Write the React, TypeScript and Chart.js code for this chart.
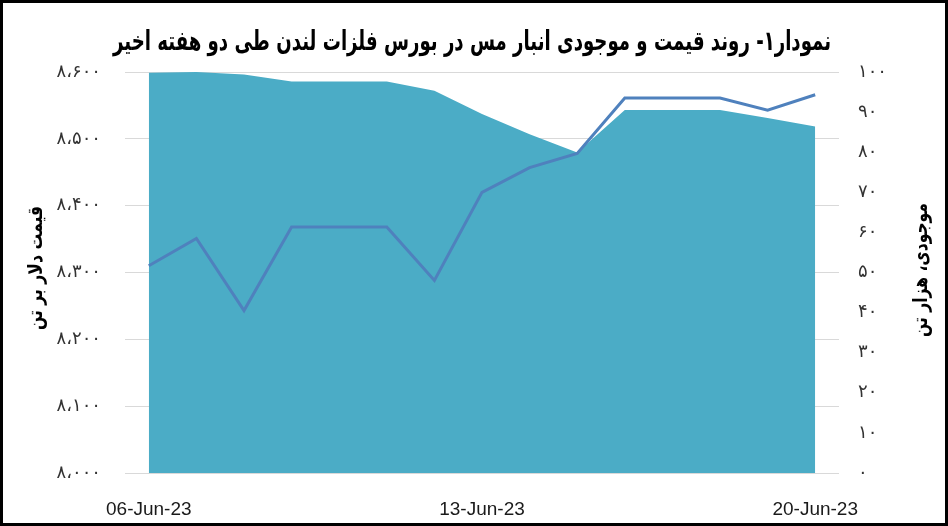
import { useEffect, useRef } from 'react';
import Chart from 'chart.js/auto';

const dates = [
  '06-Jun-23', '07-Jun-23', '08-Jun-23', '09-Jun-23', '10-Jun-23',
  '11-Jun-23', '12-Jun-23', '13-Jun-23', '14-Jun-23', '15-Jun-23',
  '16-Jun-23', '17-Jun-23', '18-Jun-23', '19-Jun-23', '20-Jun-23',
];
// copper price, $/t (left axis)
const priceValues = [8310, 8351, 8243, 8368, 8368, 8368, 8288, 8420, 8457, 8478, 8561, 8561, 8561, 8543, 8566];
// LME copper stock, thousand tonnes (right axis)
const stockValues = [99.8, 100, 99.4, 97.6, 97.6, 97.6, 95.3, 89.5, 84.5, 79.9, 90.5, 90.5, 90.5, 88.5, 86.4];

const priceTickLabels = ['۸،۰۰۰', '۸،۱۰۰', '۸،۲۰۰', '۸،۳۰۰', '۸،۴۰۰', '۸،۵۰۰', '۸،۶۰۰'];
const stockTickLabels = ['۰', '۱۰', '۲۰', '۳۰', '۴۰', '۵۰', '۶۰', '۷۰', '۸۰', '۹۰', '۱۰۰'];

const chartTitle = 'نمودار۱- روند قیمت و موجودی انبار مس در بورس فلزات لندن طی دو هفته اخیر';
const leftTitle = 'قیمت دلار بر تن';
const rightTitle = 'موجودی، هزار تن';

const arabicFont = '"DejaVu Sans", sans-serif';

function drawFitted(ctx: CanvasRenderingContext2D, text: string, x: number, y: number, width: number, rotate: number) {
  ctx.save();
  ctx.translate(x, y);
  ctx.rotate(rotate);
  const w = ctx.measureText(text).width;
  ctx.scale(width / w, 1);
  ctx.fillText(text, 0, 0);
  ctx.restore();
}

const decorPlugin = {
  id: 'decor',
  afterDraw(chart: Chart) {
    const ctx = chart.ctx;
    ctx.save();
    ctx.fillStyle = '#000';
    ctx.textAlign = 'center';
    ctx.textBaseline = 'middle';
    ctx.direction = 'rtl';

    ctx.font = `bold 27px ${arabicFont}`;
    drawFitted(ctx, chartTitle, 472, 43, 718, 0);

    ctx.font = `bold 20px ${arabicFont}`;
    drawFitted(ctx, leftTitle, 37, 268, 124, -Math.PI / 2);
    drawFitted(ctx, rightTitle, 922, 270, 134, -Math.PI / 2);

    ctx.strokeStyle = '#000';
    ctx.lineWidth = 3;
    ctx.strokeRect(1.5, 1.5, chart.width - 3, chart.height - 3);
    ctx.restore();
  },
};

export default function App() {
  const canvasRef = useRef<HTMLCanvasElement>(null);
  const chartRef = useRef<Chart | null>(null);

  useEffect(() => {
    if (!canvasRef.current) return;
    if (chartRef.current) chartRef.current.destroy();

    document.body.style.margin = '0';
    const ctx = canvasRef.current.getContext('2d');
    if (!ctx) return;

    chartRef.current = new Chart(ctx, {
      type: 'line',
      data: {
        labels: dates,
        datasets: [
          {
            label: 'قیمت',
            data: priceValues,
            yAxisID: 'y',
            borderColor: '#4F81BD',
            borderWidth: 3,
            pointRadius: 0,
            fill: false,
            tension: 0,
          },
          {
            label: 'موجودی',
            data: stockValues,
            yAxisID: 'y1',
            borderWidth: 0,
            borderColor: 'rgba(0,0,0,0)',
            backgroundColor: '#4BACC6',
            pointRadius: 0,
            fill: 'origin',
            tension: 0,
          },
        ],
      },
      options: {
        responsive: false,
        animation: false,
        plugins: {
          legend: { display: false },
          title: { display: false },
          tooltip: { enabled: false },
        },
        layout: { padding: { top: 72, bottom: 0, left: 0, right: 0 } },
        scales: {
          x: {
            offset: true,
            grid: { display: false },
            border: { display: false },
            afterFit: (scale) => { scale.height = 53; },
            ticks: {
              autoSkip: false,
              maxRotation: 0,
              padding: 17,
              color: '#1a1a1a',
              font: { size: 19, family: '"Liberation Sans Narrow", "Liberation Sans", sans-serif' },
              callback: (_v, i) => (i % 7 === 0 ? dates[i] : ''),
            },
          },
          y: {
            position: 'left',
            min: 8000,
            max: 8600,
            afterFit: (scale) => { scale.width = 125; },
            grid: { color: '#D9D9D9', lineWidth: 1, drawTicks: false },
            border: { display: false },
            ticks: {
              stepSize: 100,
              padding: 24,
              color: '#333333',
              font: { size: 18, family: arabicFont },
              callback: (_v, i) => priceTickLabels[i],
            },
          },
          y1: {
            position: 'right',
            min: 0,
            max: 100,
            afterFit: (scale) => { scale.width = 109; },
            grid: { display: false, drawTicks: false },
            border: { display: false },
            ticks: {
              stepSize: 10,
              padding: 19,
              color: '#333333',
              font: { size: 18, family: arabicFont },
              callback: (_v, i) => stockTickLabels[i],
            },
          },
        },
      },
      plugins: [decorPlugin],
    });

    return () => {
      if (chartRef.current) {
        chartRef.current.destroy();
        chartRef.current = null;
      }
    };
  }, []);

  return (
    <div style={{ position: 'fixed', left: 0, top: 0, width: 948, height: 526, background: '#fff' }}>
      <canvas ref={canvasRef} width={948} height={526} />
    </div>
  );
}
